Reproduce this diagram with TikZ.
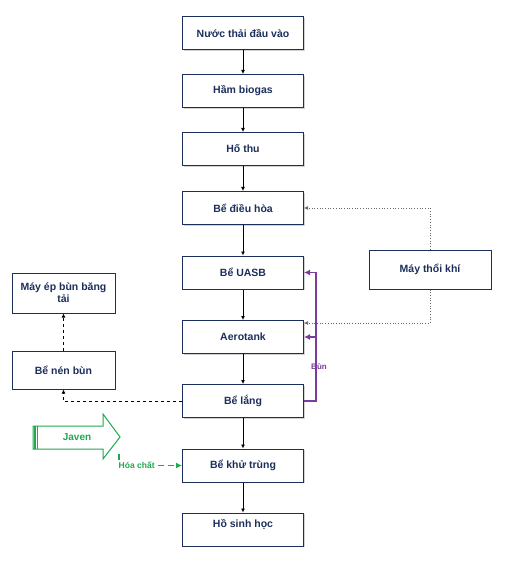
\documentclass[tikz,border=0pt]{standalone}
\usepackage{fontspec}
\setmainfont{Liberation Sans}
\usetikzlibrary{positioning, calc, arrows.meta, shadows}

\definecolor{navy}{HTML}{1C2F5C}
\definecolor{bunpurple}{HTML}{7A3D9E}
\definecolor{javengreen}{HTML}{20A84E}

\begin{document}
\begin{tikzpicture}[x=1pt, y=-1pt,
		process/.style={draw=navy, line width=1pt, fill=white, text=navy,
			font=\fontsize{10.5}{12}\selectfont\bfseries, align=center,
			minimum width=121pt, minimum height=33pt, inner sep=2pt,
			drop shadow={shadow xshift=1pt, shadow yshift=-1.2pt, opacity=0.35}},
		side/.style={process, minimum width=103pt},
		flow/.style={-{Latex[length=4pt, width=4pt]}, line width=0.8pt},
		air/.style={-{Latex[length=4pt, width=4pt]}, gray!80!black, dotted, line width=0.7pt},
		sludge/.style={-{Latex[length=4pt, width=4pt]}, dashed, line width=0.8pt},
		recycle/.style={-{Latex[length=6pt, width=6pt]}, bunpurple, line width=1.3pt}
		]
		\useasboundingbox (0,0) rectangle (512,561);
		% main column
		\node [process] (nuocthai) at (243,33.5) {Nước thải đầu vào};
		\node [process] (biogas) at (243,91) {Hầm biogas};
		\node [process] (hothu) at (243,149) {Hố thu};
		\node [process] (dieuhoa) at (243,208) {Bể điều hòa};
		\node [process] (uasb) at (243,272.5) {Bể UASB};
		\node [process] (aerotank) at (243,337) {Aerotank};
		\node [process] (lang) at (243,401) {Bể lắng};
		\node [process] (khutrung) at (243,465.5) {Bể khử trùng};
		\node [process, text depth=12pt] (hosinhhoc) at (243,529.5) {Hồ sinh học};
		% side units
		\node [process, minimum width=122pt, minimum height=39pt] (thoikhi) at (430,269.5) {Máy thổi khí};
		\node [side, minimum height=40pt] (epbun) at (63.5,293) {Máy ép bùn băng\\tải};
		\node [side, minimum height=38pt] (nenbun) at (63.5,370) {Bể nén bùn};
		\draw [flow] (nuocthai) -- (biogas);
		\draw [flow] (biogas) -- (hothu);
		\draw [flow] (hothu) -- (dieuhoa);
		\draw [flow] (dieuhoa) -- (uasb);
		\draw [flow] (uasb) -- (aerotank);
		\draw [flow] (aerotank) -- (lang);
		\draw [flow] (lang) -- (khutrung);
		\draw [flow] (khutrung) -- (hosinhhoc);
		% air
		\draw [air] (thoikhi.north) |- (dieuhoa.east);
		\draw [air] (thoikhi.south) |- ([yshift=14pt]aerotank.east);
		% sludge
		\draw [sludge] (lang.west) -| (nenbun.south);
		\draw [sludge] (nenbun.north) -- (epbun.south);
		% return sludge
		\coordinate (bunturn) at ($(lang.east)+(12,0)$);
		\draw [recycle] (lang.east) -- (bunturn) |- (uasb.east);
		\draw [recycle] (bunturn |- aerotank.east) -- (aerotank.east);
		\node [text=bunpurple, font=\fontsize{8}{9}\selectfont\bfseries, inner sep=1pt] (bun) at (319,367) {Bùn};
		% chemicals
		\draw [javengreen, line width=1pt, fill=white]
		(33,426) -- (103,426) -- (103,414) -- (120,437) -- (103,459) -- (103,449) -- (33,449) -- cycle;
		\draw [javengreen, line width=2pt] (34.5,426) -- (34.5,449);
		\draw [javengreen, line width=0.6pt] (37.5,426) -- (37.5,449);
		\node [text=javengreen, font=\fontsize{10}{11}\selectfont\bfseries] (javen) at (77,437) {Javen};
		\coordinate (hoachat) at (119,454);
		\draw [-{Latex[length=6pt, width=6pt]}, javengreen, dash pattern=on 6pt off 4pt, line width=1.2pt] (hoachat) |- (khutrung.west)
		node [pos=0.64, fill=white, inner sep=1pt, font=\fontsize{8.5}{9}\selectfont\bfseries] {Hóa chất};
	\end{tikzpicture}
\end{document}
